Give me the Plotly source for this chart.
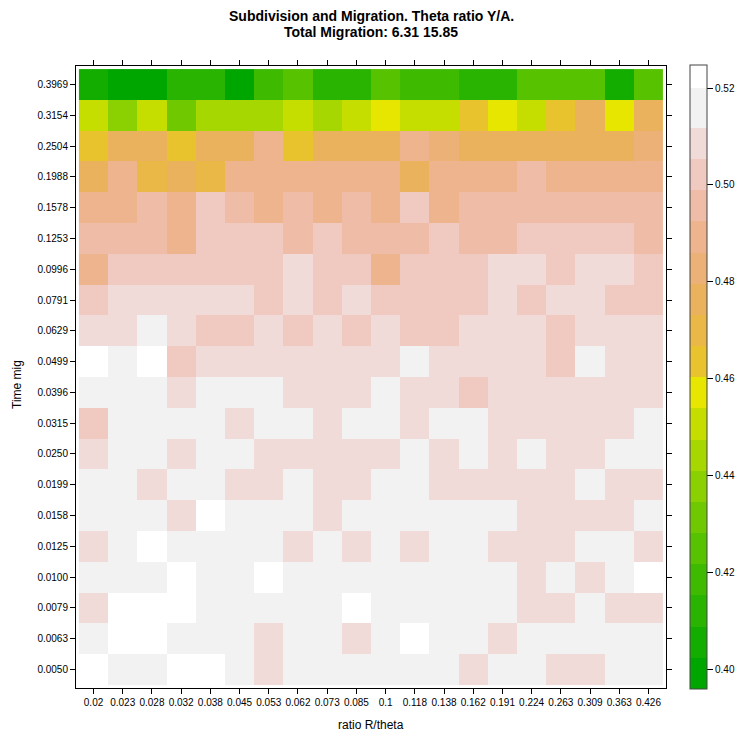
import plotly.graph_objects as go

# ---- data ----
x_labels = ["0.02", "0.023", "0.028", "0.032", "0.038", "0.045", "0.053", "0.062", "0.073", "0.085",
            "0.1", "0.118", "0.138", "0.162", "0.191", "0.224", "0.263", "0.309", "0.363", "0.426"]
y_labels = ["0.0050", "0.0063", "0.0079", "0.0100", "0.0125", "0.0158", "0.0199", "0.0250", "0.0315", "0.0396",
            "0.0499", "0.0629", "0.0791", "0.0996", "0.1253", "0.1578", "0.1988", "0.2504", "0.3154", "0.3969"]

# one list per Time mig row (values across ratio R/theta)
row_0_0050 = [0.522, 0.516, 0.516, 0.522, 0.522, 0.516, 0.509, 0.516, 0.516, 0.516, 0.516, 0.516, 0.516, 0.509, 0.516, 0.516, 0.509, 0.509, 0.516, 0.516]
row_0_0063 = [0.516, 0.522, 0.522, 0.516, 0.516, 0.516, 0.509, 0.516, 0.516, 0.509, 0.516, 0.522, 0.516, 0.516, 0.509, 0.516, 0.516, 0.516, 0.516, 0.516]
row_0_0079 = [0.509, 0.522, 0.522, 0.522, 0.516, 0.516, 0.516, 0.516, 0.516, 0.522, 0.516, 0.516, 0.516, 0.516, 0.516, 0.509, 0.509, 0.516, 0.509, 0.509]
row_0_0100 = [0.516, 0.516, 0.516, 0.522, 0.516, 0.516, 0.522, 0.516, 0.516, 0.516, 0.516, 0.516, 0.516, 0.516, 0.516, 0.509, 0.516, 0.509, 0.516, 0.522]
row_0_0125 = [0.509, 0.516, 0.522, 0.516, 0.516, 0.516, 0.516, 0.509, 0.516, 0.509, 0.516, 0.509, 0.516, 0.516, 0.509, 0.509, 0.509, 0.516, 0.516, 0.509]
row_0_0158 = [0.516, 0.516, 0.516, 0.509, 0.522, 0.516, 0.516, 0.516, 0.509, 0.516, 0.516, 0.516, 0.516, 0.516, 0.516, 0.509, 0.509, 0.509, 0.509, 0.516]
row_0_0199 = [0.516, 0.516, 0.509, 0.516, 0.516, 0.509, 0.509, 0.516, 0.509, 0.509, 0.516, 0.516, 0.509, 0.509, 0.509, 0.509, 0.509, 0.516, 0.509, 0.509]
row_0_0250 = [0.509, 0.516, 0.516, 0.509, 0.516, 0.516, 0.509, 0.509, 0.509, 0.509, 0.509, 0.516, 0.509, 0.516, 0.509, 0.516, 0.509, 0.509, 0.516, 0.516]
row_0_0315 = [0.502, 0.516, 0.516, 0.516, 0.516, 0.509, 0.516, 0.516, 0.509, 0.516, 0.516, 0.509, 0.516, 0.516, 0.509, 0.509, 0.509, 0.509, 0.509, 0.516]
row_0_0396 = [0.516, 0.516, 0.516, 0.509, 0.516, 0.516, 0.516, 0.509, 0.509, 0.509, 0.516, 0.509, 0.509, 0.502, 0.509, 0.509, 0.509, 0.509, 0.509, 0.509]
row_0_0499 = [0.522, 0.516, 0.522, 0.502, 0.509, 0.509, 0.509, 0.509, 0.509, 0.509, 0.509, 0.516, 0.509, 0.509, 0.509, 0.509, 0.502, 0.516, 0.509, 0.509]
row_0_0629 = [0.509, 0.509, 0.516, 0.509, 0.502, 0.502, 0.509, 0.502, 0.509, 0.502, 0.509, 0.502, 0.502, 0.509, 0.509, 0.509, 0.502, 0.509, 0.509, 0.509]
row_0_0791 = [0.502, 0.509, 0.509, 0.509, 0.509, 0.509, 0.502, 0.509, 0.502, 0.509, 0.502, 0.502, 0.502, 0.502, 0.509, 0.502, 0.509, 0.509, 0.502, 0.502]
row_0_0996 = [0.489, 0.502, 0.502, 0.502, 0.502, 0.502, 0.502, 0.509, 0.502, 0.502, 0.489, 0.502, 0.502, 0.502, 0.509, 0.509, 0.502, 0.509, 0.509, 0.502]
row_0_1253 = [0.496, 0.496, 0.496, 0.489, 0.502, 0.502, 0.502, 0.496, 0.502, 0.496, 0.496, 0.496, 0.502, 0.496, 0.496, 0.502, 0.502, 0.502, 0.502, 0.496]
row_0_1578 = [0.489, 0.489, 0.496, 0.489, 0.502, 0.496, 0.489, 0.496, 0.489, 0.496, 0.489, 0.502, 0.489, 0.496, 0.496, 0.496, 0.496, 0.496, 0.496, 0.496]
row_0_1988 = [0.476, 0.489, 0.470, 0.476, 0.470, 0.489, 0.489, 0.489, 0.489, 0.489, 0.489, 0.476, 0.489, 0.489, 0.489, 0.496, 0.489, 0.489, 0.489, 0.489]
row_0_2504 = [0.463, 0.476, 0.476, 0.463, 0.476, 0.476, 0.489, 0.463, 0.476, 0.476, 0.476, 0.489, 0.483, 0.476, 0.476, 0.476, 0.476, 0.476, 0.476, 0.483]
row_0_3154 = [0.451, 0.438, 0.451, 0.431, 0.444, 0.444, 0.444, 0.451, 0.444, 0.451, 0.457, 0.451, 0.451, 0.463, 0.457, 0.451, 0.463, 0.476, 0.457, 0.476]
row_0_3969 = [0.405, 0.399, 0.399, 0.412, 0.412, 0.399, 0.418, 0.425, 0.412, 0.412, 0.425, 0.418, 0.418, 0.412, 0.412, 0.425, 0.425, 0.425, 0.405, 0.425]

z_rows = [row_0_0050, row_0_0063, row_0_0079, row_0_0100, row_0_0125, row_0_0158, row_0_0199,
          row_0_0250, row_0_0315, row_0_0396, row_0_0499, row_0_0629, row_0_0791, row_0_0996,
          row_0_1253, row_0_1578, row_0_1988, row_0_2504, row_0_3154, row_0_3969]

colorbar_ticks = [0.40, 0.42, 0.44, 0.46, 0.48, 0.50, 0.52]

# ---- discrete colour scale (terrain-like) ----
band_colors = ["#00A600", "#13AD00", "#28B400", "#3EBB00", "#56C200", "#70C900", "#8BD000",
               "#A7D700", "#C5DE00", "#E6E600", "#E8C32E", "#E9B846", "#EBB25E", "#ECB176",
               "#EDB48E", "#EEBCA7", "#F0C9C0", "#F1DBD9", "#F2F2F2", "#FFFFFF"]
zmin, zmax = 0.39587, 0.52475
step = 0.0064372
edges = [zmin + k * step for k in range(19)] + [0.52, zmax]
colorscale = []
for i, c in enumerate(band_colors):
    lo = (edges[i] - zmin) / (zmax - zmin)
    hi = (edges[i + 1] - zmin) / (zmax - zmin)
    colorscale.append([max(0.0, lo), c])
    colorscale.append([min(1.0, hi), c])

FONT = "Liberation Sans, Arial, Helvetica, sans-serif"

L, T, R, B = 76, 66, 74, 46
PW, PH = 590, 622

fig = go.Figure(go.Heatmap(
    z=z_rows, x=x_labels, y=y_labels,
    zmin=zmin, zmax=zmax, colorscale=colorscale,
    hoverinfo="skip",
    colorbar=dict(
        x=(690 - 76) / PW, xanchor="left", xpad=0,
        y=0.5, yanchor="middle", len=624, lenmode="pixels",
        thickness=17, thicknessmode="pixels",
        outlinewidth=1, outlinecolor="#444",
        tickvals=colorbar_ticks, ticktext=["%.2f" % t for t in colorbar_ticks],
        ticks="outside", ticklen=6, tickcolor="black",
        tickfont=dict(family=FONT, size=10, color="black"),
        ypad=0,
    ),
))

axis_common = dict(
    type="category", showgrid=False, zeroline=False,
    showline=True, linecolor="black", linewidth=1, mirror="ticks",
    ticks="outside", ticklen=5, tickcolor="black",
    tickfont=dict(family=FONT, size=10, color="black"),
    range=[-0.6, 19.6],
)

fig.update_layout(
    width=L + PW + R, height=T + PH + B,
    margin=dict(l=L, r=R, t=T, b=B, autoexpand=False),
    plot_bgcolor="white", paper_bgcolor="white",
    xaxis=axis_common,
    yaxis=axis_common,
    showlegend=False,
    annotations=[
        dict(text="<b>Subdivision and Migration. Theta ratio Y/A.</b>", xref="paper", yref="paper",
             x=0.5, y=(688 - 16) / PH, xanchor="center", yanchor="middle", showarrow=False,
             font=dict(family=FONT, size=14, color="black")),
        dict(text="<b>Total Migration: 6.31 15.85</b>", xref="paper", yref="paper",
             x=0.5, y=(688 - 32) / PH, xanchor="center", yanchor="middle", showarrow=False,
             font=dict(family=FONT, size=14, color="black")),
        dict(text="ratio R/theta", xref="paper", yref="paper",
             x=0.5, y=(688 - 725) / PH, xanchor="center", yanchor="middle", showarrow=False,
             font=dict(family=FONT, size=12, color="black")),
        dict(text="Time mig", xref="paper", yref="paper", textangle=-90,
             x=(17 - 76) / PW, y=(688 - 385) / PH, xanchor="center", yanchor="middle", showarrow=False,
             font=dict(family=FONT, size=12, color="black")),
    ],
)

fig.write_html(
    "out.html",
    config={"displayModeBar": False},
    post_script="document.body.style.margin='0';document.body.style.overflow='hidden';",
)
